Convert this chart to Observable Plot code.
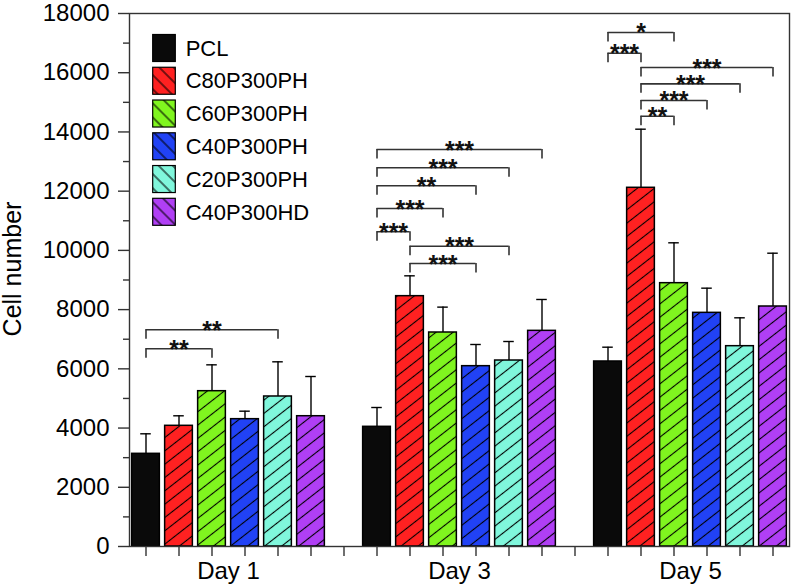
<!DOCTYPE html>
<html><head><meta charset="utf-8">
<script src="https://cdn.jsdelivr.net/npm/d3@7"></script>
<script src="https://cdn.jsdelivr.net/npm/@observablehq/plot@0.6"></script>
<style>body{margin:0;background:#fff} #chart{width:792px;height:586px}</style>
</head><body><div id="chart"></div>
<script>
const groups = ["Day 1", "Day 3", "Day 5"];
const series = ["PCL", "C80P300PH", "C60P300PH", "C40P300PH", "C20P300PH", "C40P300HD"];
const colors = ["#0a0a0a", "#ff2121", "#80f51f", "#2142f5", "#80f7dc", "#b03ff5"];
const means = [
  [3130, 4076, 5245, 4300, 5066, 4400],
  [4042, 8454, 7227, 6090, 6281, 7283],
  [6248, 12114, 8893, 7891, 6765, 8105]
];
const errors = [
  [676, 338, 890, 270, 1171, 1341],
  [652, 687, 857, 732, 642, 1059],
  [483, 1979, 1363, 833, 958, 1800]
];
// [group index, from series, to series, bracket level, label]
const bracketList = [
  [0, 0, 2, 6677, "**"], [0, 0, 4, 7318, "**"],
  [1, 0, 5, 13407, "***"], [1, 0, 4, 12789, "***"], [1, 0, 3, 12181, "**"],
  [1, 0, 2, 11414, "***"], [1, 0, 1, 10627, "***"], [1, 1, 4, 10140, "***"], [1, 1, 3, 9557, "***"],
  [2, 0, 2, 17359, "*"], [2, 0, 1, 16660, "***"], [2, 1, 5, 16176, "***"],
  [2, 1, 4, 15625, "***"], [2, 1, 3, 15062, "***"], [2, 1, 2, 14532, "**"]
];
const yMajor = [0, 2000, 4000, 6000, 8000, 10000, 12000, 14000, 16000, 18000];
const yMinor = [1000, 3000, 5000, 7000, 9000, 11000, 13000, 15000, 17000];

const slotsPerGroup = series.length + 1;
const rows = [];
groups.forEach((g, gi) => series.forEach((s, si) => rows.push({
  group: g, series: s, si, slot: gi * slotsPerGroup + si,
  mean: means[gi][si], err: errors[gi][si], color: colors[si]
})));
const brackets = bracketList.map(([gi, a, b, level, label]) => ({
  a: gi * slotsPerGroup + a, b: gi * slotsPerGroup + b, level, label
}));
const nSlots = groups.length * slotsPerGroup - 1;
const hw = 0.42, capW = 0.16, leg = 320;
const font = "'Liberation Sans', Arial, sans-serif";

const chart = Plot.plot({
  width: 792, height: 586,
  marginLeft: 129, marginRight: 3, marginTop: 13, marginBottom: 40,
  style: {fontFamily: font, background: "white", color: "#000"},
  x: {domain: [-0.5, nSlots - 0.5]},
  y: {domain: [0, 18000]},
  color: {type: "identity"},
  marks: [
    Plot.rect(rows, {x1: d => d.slot - hw, x2: d => d.slot + hw, y1: d => 0, y2: "mean", fill: "color"}),
    Plot.rect(rows.filter(d => d.si > 0), {x1: d => d.slot - hw, x2: d => d.slot + hw, y1: d => 0, y2: "mean", fill: "url(#hatchBar)"}),
    Plot.rect(rows, {x1: d => d.slot - hw, x2: d => d.slot + hw, y1: d => 0, y2: "mean", fill: "none", stroke: "#000", strokeWidth: 1.5}),
    Plot.ruleX(rows, {x: "slot", y1: "mean", y2: d => d.mean + d.err, stroke: "#000", strokeWidth: 1.4}),
    Plot.ruleY(rows, {x1: d => d.slot - capW, x2: d => d.slot + capW, y: d => d.mean + d.err, stroke: "#000", strokeWidth: 1.4}),
    Plot.ruleY(brackets, {x1: "a", x2: "b", y: "level", stroke: "#333", strokeWidth: 1.6}),
    Plot.ruleX(brackets, {x: "a", y1: "level", y2: d => d.level - leg, stroke: "#333", strokeWidth: 1.6}),
    Plot.ruleX(brackets, {x: "b", y1: "level", y2: d => d.level - leg, stroke: "#333", strokeWidth: 1.6}),
    Plot.text(brackets, {x: d => (d.a + d.b) / 2, y: "level", text: "label", fontSize: 25, fontWeight: "bold", dy: 1, fill: "#111"}),
    Plot.frame({stroke: "#333", strokeWidth: 1.4}),
    Plot.axisY({ticks: yMajor, tickSize: 11, tickPadding: 9, tickFormat: d => String(d), fontSize: 24, label: null, stroke: "#333", strokeWidth: 1.4}),
    Plot.axisY({ticks: yMinor, tickSize: 6, tickFormat: () => "", label: null, stroke: "#333", strokeWidth: 1.4}),
    Plot.axisX({ticks: d3.range(nSlots), tickSize: 10, tickFormat: () => "", label: null, stroke: "#333", strokeWidth: 1.4}),
    Plot.axisX({ticks: groups.map((g, i) => i * slotsPerGroup + (series.length - 1) / 2), tickSize: 0, tickPadding: 15,
      tickFormat: d => groups[Math.round((d - (series.length - 1) / 2) / slotsPerGroup)], fontSize: 24, label: null}),
    Plot.text(["Cell number"], {text: d => d, frameAnchor: "left", textAnchor: "middle", rotate: -90, dx: -117, dy: -11, fontSize: 25})
  ]
});

const svg = d3.select(chart);
const defs = svg.insert("defs", ":first-child");
function hatch(id, angle, size) {
  const p = defs.append("pattern").attr("id", id).attr("patternUnits", "userSpaceOnUse")
    .attr("width", size).attr("height", size).attr("patternTransform", `rotate(${angle})`);
  p.append("line").attr("x1", size / 2).attr("x2", size / 2).attr("y1", 0).attr("y2", size)
    .attr("stroke", "#000").attr("stroke-width", 1.1);
}
hatch("hatchBar", 52, 10.5);
hatch("hatchLegend", -45, 10);

const lg = svg.append("g").attr("font-family", font).attr("font-size", 22).attr("text-anchor", "start");
series.forEach((s, i) => {
  const cy = 48 + i * 32.76;
  lg.append("rect").attr("x", 152.7).attr("y", cy - 13.5).attr("width", 22.6).attr("height", 27).attr("fill", colors[i]);
  if (i > 0) lg.append("rect").attr("x", 152.7).attr("y", cy - 13.5).attr("width", 22.6).attr("height", 27).attr("fill", "url(#hatchLegend)");
  lg.append("rect").attr("x", 152.7).attr("y", cy - 13.5).attr("width", 22.6).attr("height", 27).attr("fill", "none").attr("stroke", "#000").attr("stroke-width", 1.2);
  lg.append("text").attr("x", 185.7).attr("y", cy).attr("dy", "0.35em").attr("fill", "#000").text(s);
});
document.getElementById("chart").appendChild(chart);
</script>
</body></html>
